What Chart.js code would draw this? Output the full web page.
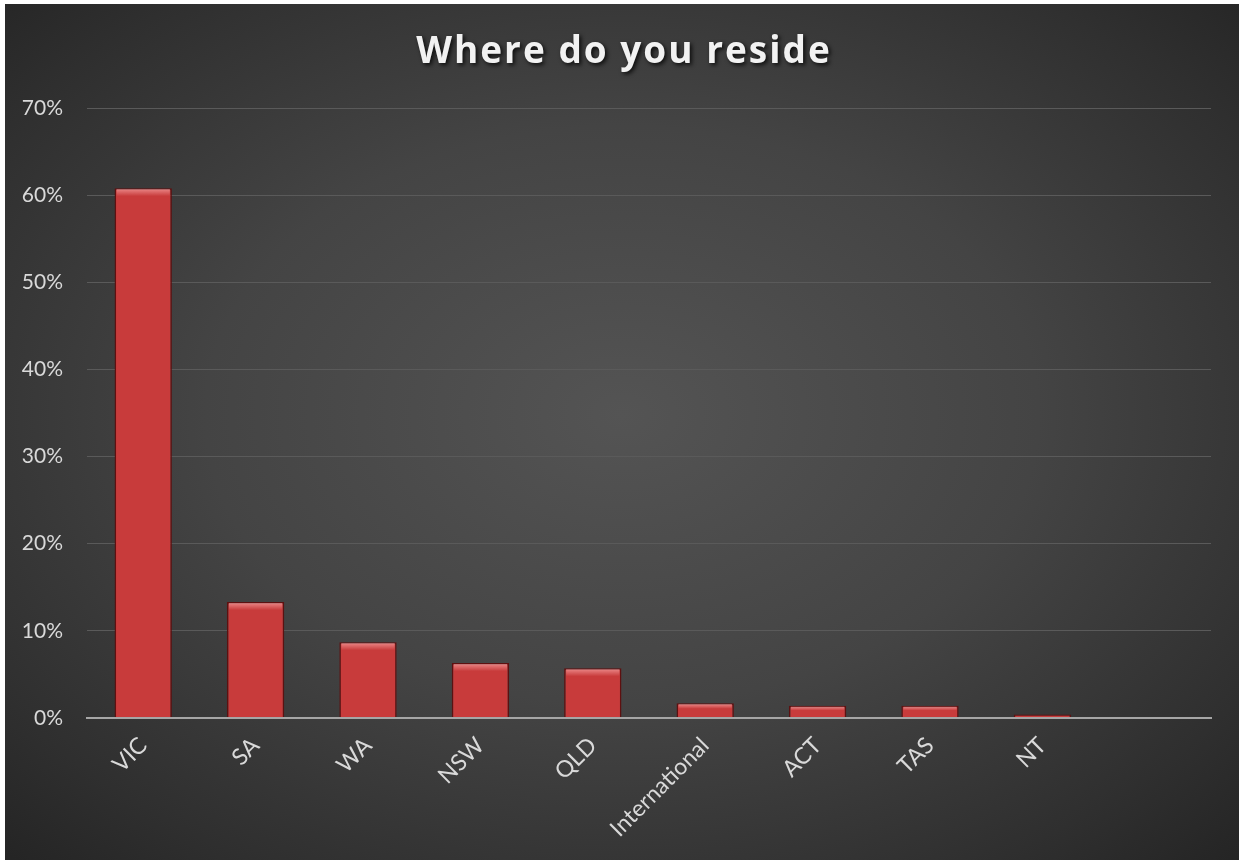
<!DOCTYPE html>
<html>
<head>
<meta charset="utf-8">
<script src="https://cdn.jsdelivr.net/npm/chart.js@4/dist/chart.umd.min.js"></script>
<style>
  html, body { margin: 0; padding: 0; background: #ffffff; width: 1239px; height: 860px; overflow: hidden; }
  #wrap { position: absolute; left: 5px; top: 4px; width: 1234px; height: 856px;
    background: radial-gradient(ellipse 75% 75% at 50% 48%, #545454 0%, #444444 45%, #2f2f2f 80%, #222222 100%); }
  canvas { display: block; }
</style>
</head>
<body>
<div id="wrap"><canvas id="c" width="1234" height="856"></canvas></div>
<script>
const chartTitle = 'Where do you reside';
const categories = ['VIC', 'SA', 'WA', 'NSW', 'QLD', 'International', 'ACT', 'TAS', 'NT', ''];
const shares = [60.8, 13.3, 8.7, 6.3, 5.7, 1.7, 1.4, 1.4, 0.4, null];
const yTicks = [0, 10, 20, 30, 40, 50, 60, 70];

function barFill(ctx) {
  const el = ctx.element;
  const c = ctx.chart.ctx;
  if (!el || el.width === undefined) return '#c83b3b';
  const x0 = el.x - el.width / 2, x1 = el.x + el.width / 2;
  const g = c.createLinearGradient(x0, 0, x1, 0);
  g.addColorStop(0, '#9a2222');
  g.addColorStop(0.1, '#d44545');
  g.addColorStop(0.5, '#c93a3a');
  g.addColorStop(0.9, '#d44545');
  g.addColorStop(1, '#9a2222');
  return g;
}

const titleDraw = {
  id: 'titleDraw',
  afterDraw(chart) {
    const c = chart.ctx;
    c.save();
    c.font = 'bold 37px "Open Sans"';
    c.letterSpacing = '2px';
    c.textAlign = 'center';
    c.textBaseline = 'alphabetic';
    c.fillStyle = '#f2f2f2';
    c.shadowColor = 'rgba(0,0,0,0.8)';
    c.shadowOffsetX = 2;
    c.shadowOffsetY = 2;
    c.shadowBlur = 4;
    c.fillText(chartTitle, chart.width / 2 + 2, 59);
    c.restore();
  }
};

const barTop = {
  id: 'barTop',
  afterDatasetsDraw(chart) {
    const meta = chart.getDatasetMeta(0);
    const c = chart.ctx;
    c.save();
    meta.data.forEach((bar) => {
      if (bar.skip || !isFinite(bar.y)) return;
      const h = bar.base - bar.y;
      if (h < 4) return;
      const x0 = bar.x - bar.width / 2 + 2, w = bar.width - 4;
      const hh = Math.min(7, h / 3);
      const g = c.createLinearGradient(0, bar.y + 1, 0, bar.y + 1 + hh);
      g.addColorStop(0, 'rgba(255,180,180,0.6)');
      g.addColorStop(1, 'rgba(255,180,180,0)');
      c.fillStyle = g;
      c.fillRect(x0, bar.y + 1, w, hh);
    });
    c.restore();
  }
};

new Chart(document.getElementById('c'), {
  type: 'bar',
  data: {
    labels: categories,
    datasets: [{
      data: shares,
      backgroundColor: barFill,
      borderColor: '#5e1010',
      borderWidth: 1.5,
      barPercentage: 0.51,
      categoryPercentage: 1.0
    }]
  },
  options: {
    responsive: false,
    animation: false,
    layout: { padding: { left: 0, right: 28, top: 104, bottom: 0 } },
    plugins: {
      legend: { display: false },
      tooltip: { enabled: false },
      title: { display: false }
    },
    scales: {
      x: {
        grid: { display: false },
        border: { display: true, color: '#a6a6a6', width: 2 },
        ticks: {
          color: '#d9d9d9',
          font: { family: 'Lato', size: 23 },
          minRotation: 45,
          maxRotation: 45,
          padding: 6,
          autoSkip: false
        },
        afterFit(scale) { scale.height = 142; }
      },
      y: {
        min: 0,
        max: 70,
        afterBuildTicks(scale) { scale.ticks = yTicks.map(v => ({ value: v })); },
        grid: {
          drawTicks: false,
          color: (ctx) => ctx.tick && ctx.tick.value === 0 ? '#a6a6a6' : '#5a5a5a',
          lineWidth: (ctx) => ctx.tick && ctx.tick.value === 0 ? 2 : 1
        },
        border: { display: false },
        ticks: {
          color: '#d9d9d9',
          font: { family: 'Lato', size: 21 },
          padding: 24,
          callback: (v) => v + '%'
        },
        afterFit(scale) { scale.width = 82; }
      }
    }
  },
  plugins: [titleDraw, barTop]
});
</script>
</body>
</html>
